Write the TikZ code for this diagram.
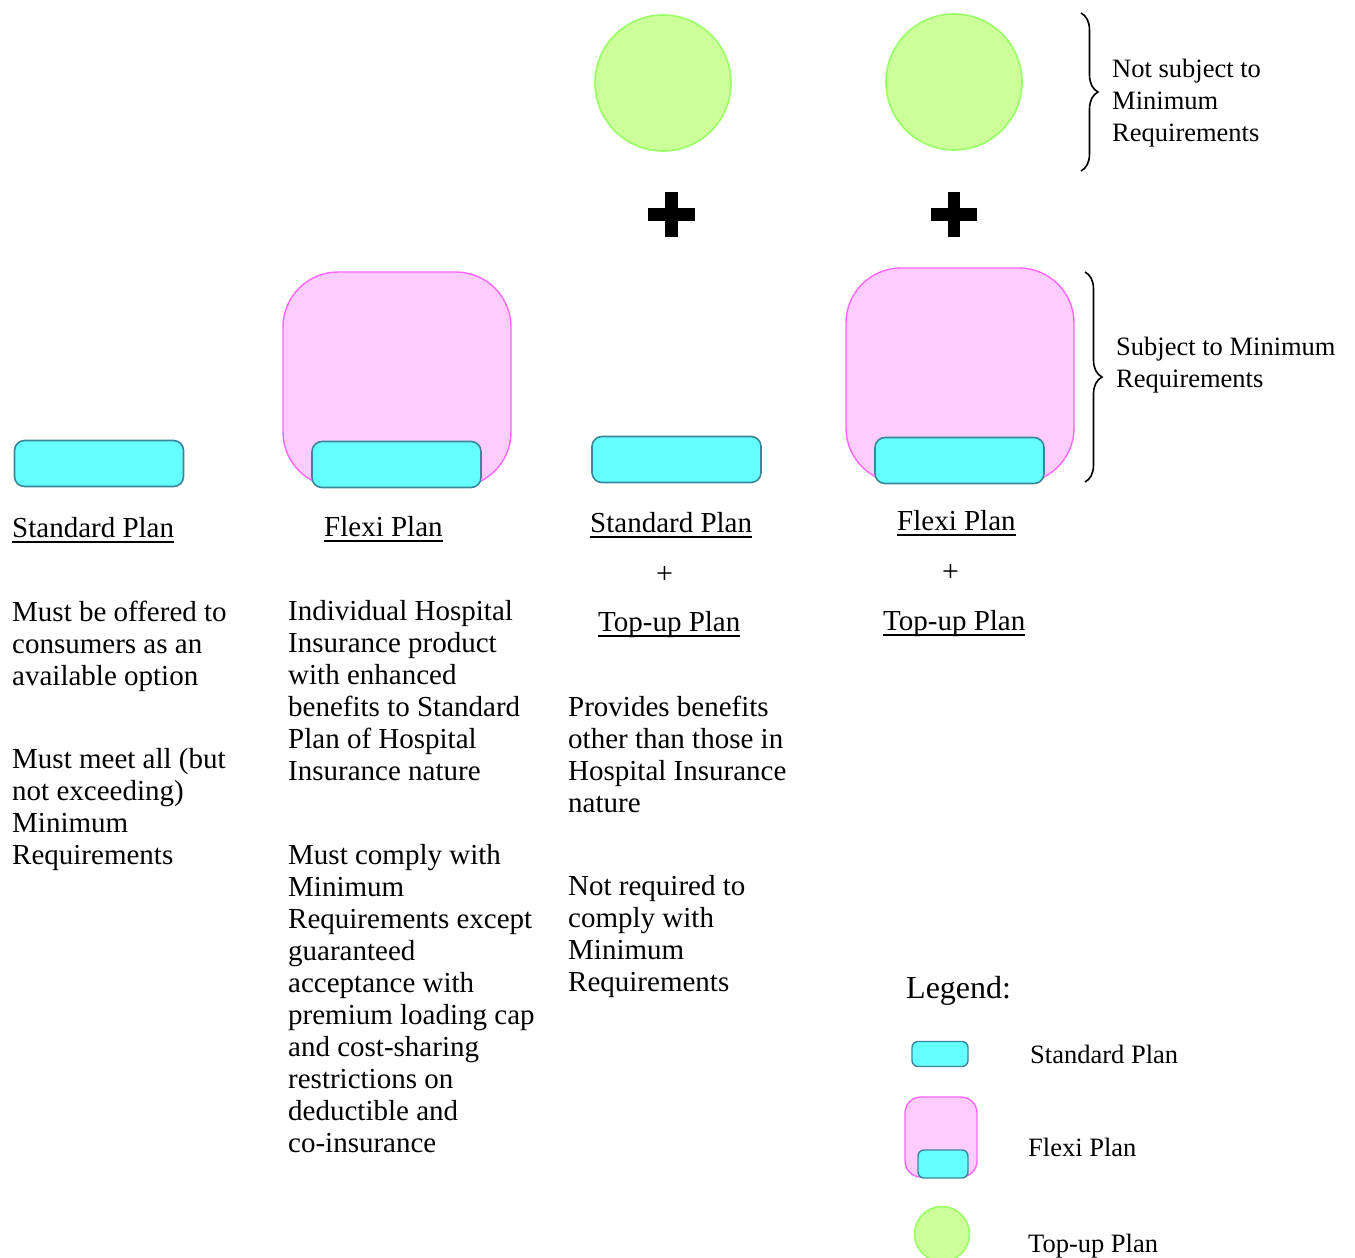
\documentclass[tikz,border=0pt]{standalone}
\usepackage{fontspec}
\setmainfont{Liberation Serif}
\usepackage{tikz}
\usetikzlibrary{decorations.pathreplacing}
\definecolor{stdfill}{RGB}{102,255,255}
\definecolor{stdline}{RGB}{58,135,155}
\definecolor{flexfill}{RGB}{255,204,255}
\definecolor{flexline}{RGB}{255,102,255}
\definecolor{topfill}{RGB}{204,255,153}
\definecolor{topline}{RGB}{153,255,102}
\newcommand{\plantitle}[1]{\setbox0\hbox{#1}\rlap{\raisebox{-6pt}{\rule{\wd0}{1.6pt}}}\box0}
\tikzset{
  stdplan/.style={draw=stdline, fill=stdfill, line width=1.6pt, rounded corners=10pt, minimum width=169pt, minimum height=46pt, inner sep=0pt},
  flexiplan/.style={draw=flexline, fill=flexfill, line width=1.4pt, rounded corners=55pt, minimum width=228pt, minimum height=215pt, inner sep=0pt},
  topup/.style={draw=topline, fill=topfill, line width=1.6pt, shape=circle, minimum size=136pt, inner sep=0pt},
  txt/.style={anchor=base west, inner sep=0pt, align=left, font=\fontsize{29}{32}\selectfont},
  sidetxt/.style={anchor=base west, inner sep=0pt, align=left, font=\fontsize{26.5}{32}\selectfont},
  legtxt/.style={anchor=base west, inner sep=0pt, font=\fontsize{26.5}{32}\selectfont},
  plussign/.style={inner sep=0pt, font=\fontsize{30}{32}\selectfont},
  bigbrace/.style={decorate, decoration={brace, amplitude=17pt}, line width=1.6pt}
}
\begin{document}
\begin{tikzpicture}[x=1pt, y=-1pt]
  \useasboundingbox (0,0) rectangle (1355,1258);
  % top-up circles
  \node(top3)[topup] at (663,83) {};
  \node(top4)[topup] at (954,82) {};
  % plus signs
  \fill (648,208) rectangle (695,221);
  \fill (665,192) rectangle (678,237);
  \fill (931,208) rectangle (977,221);
  \fill (948,192) rectangle (960,237);
  % plan shapes
  \node(std1)[stdplan] at (99,463.5) {};
  \node(flexi2)[flexiplan] at (397,379.5) {};
  \node(std2)[stdplan] at (396.5,464.5) {};
  \node(std3)[stdplan] at (676.5,459.5) {};
  \node(flexi4)[flexiplan] at (960,375.5) {};
  \node(std4)[stdplan] at (959.5,460.5) {};
  % braces
  \coordinate(b1t) at (1081,13);
  \coordinate(b1b) at (1081,171);
  \coordinate(b2t) at (1085,272);
  \coordinate(b2b) at (1085,482);
  \draw[bigbrace] (b1t) -- (b1b);
  \draw[bigbrace] (b2t) -- (b2b);
  \node(nsub)[sidetxt] at (1112,141) {Not subject to\\Minimum\\Requirements};
  \node(sub)[sidetxt] at (1116,387) {Subject to Minimum\\Requirements};
  % column 1
  \node(t1)[txt] at (12,537) {\plantitle{Standard Plan}};
  \node(d1a)[txt] at (12,685) {Must be offered to\\consumers as an\\available option};
  \node(d1b)[txt] at (12,864) {Must meet all (but\\not exceeding)\\Minimum\\Requirements};
  % column 2
  \node(t2)[txt] at (324,536) {\plantitle{Flexi Plan}};
  \node(d2a)[txt] at (288,780) {Individual Hospital\\Insurance product\\with enhanced\\benefits to Standard\\Plan of Hospital\\Insurance nature};
  \node(d2b)[txt] at (288,1152) {Must comply with\\Minimum\\Requirements except\\guaranteed\\acceptance with\\premium loading cap\\and cost-sharing\\restrictions on\\deductible and\\co-insurance};
  % column 3
  \node(t3)[txt] at (590,532) {\plantitle{Standard Plan}};
  \node(p3)[plussign] at (664.5,575.5) {+};
  \node(u3)[txt] at (598,631) {\plantitle{Top-up Plan}};
  \node(d3a)[txt] at (568,812) {Provides benefits\\other than those in\\Hospital Insurance\\nature};
  \node(d3b)[txt] at (568,991) {Not required to\\comply with\\Minimum\\Requirements};
  % column 4
  \node(t4)[txt] at (897,530) {\plantitle{Flexi Plan}};
  \node(p4)[plussign] at (950.5,573.5) {+};
  \node(u4)[txt] at (883,630) {\plantitle{Top-up Plan}};
  % legend
  \node(leg)[anchor=base west, inner sep=0pt, font=\fontsize{32}{36}\selectfont] at (906,998) {Legend:};
  \node(lstd)[stdplan, minimum width=56pt, minimum height=25pt, rounded corners=6pt, line width=1.4pt] at (940,1054) {};
  \node(lstdt)[legtxt] at (1030,1063) {Standard Plan};
  \node(lflex)[flexiplan, minimum width=72pt, minimum height=80pt, rounded corners=16pt] at (941,1137) {};
  \node(lflexin)[stdplan, minimum width=50pt, minimum height=28pt, rounded corners=6pt, line width=1.4pt] at (943,1164) {};
  \node(lflext)[legtxt] at (1028,1156) {Flexi Plan};
  \node(ltop)[topup, minimum size=55pt] at (942,1234) {};
  \node(ltopt)[legtxt] at (1028,1252) {Top-up Plan};
\end{tikzpicture}
\end{document}
